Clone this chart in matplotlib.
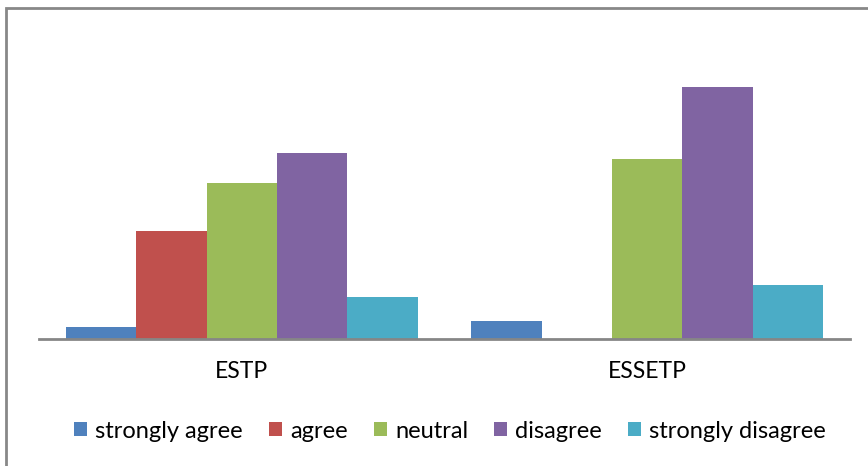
import numpy as np
import matplotlib.pyplot as plt
from matplotlib.patches import Rectangle

plt.rcParams['font.family'] = ['Lato', 'DejaVu Sans']

groups = ['ESTP', 'ESSETP']
answers = ['strongly agree', 'agree', 'neutral', 'disagree', 'strongly disagree']
estp = [2, 18, 26, 31, 7]
essetp = [3, 0, 30, 42, 9]
colors = ['#4F81BD', '#C0504D', '#9BBB59', '#8064A2', '#4BACC6']

values = np.array([estp, essetp])

fig = plt.figure(figsize=(8.68, 4.66), dpi=100)
ax = fig.add_axes([39 / 868, 1 - 339 / 466, 811 / 868, 270 / 466])

x = np.arange(len(groups))
w = 0.868 / len(answers)
for i, (name, c) in enumerate(zip(answers, colors)):
    ax.bar(x - 0.434 + w * (i + 0.5), values[:, i], width=w, color=c,
           label=name, edgecolor='none')

ax.set_xlim(-0.5, 1.5)
ax.set_ylim(0, 45)
ax.set_yticks([])
ax.set_xticks(x)
ax.set_xticklabels(groups, fontsize=16.5)
ax.tick_params(axis='x', length=0, pad=16)
for s in ['top', 'right', 'left']:
    ax.spines[s].set_visible(False)
ax.spines['bottom'].set_color('#868686')
ax.spines['bottom'].set_linewidth(2)

fig.legend(loc='center', bbox_to_anchor=(450 / 868, 1 - 431 / 466), ncol=5,
           frameon=False, fontsize=17, handlelength=0.55, handleheight=0.55,
           handletextpad=0.35, columnspacing=1.1)

# outer chart frame
fig.add_artist(Rectangle((6 / 868, -0.1), 1.2, 1 - 8 / 466 + 0.1,
                         transform=fig.transFigure, fill=False,
                         edgecolor='#888888', linewidth=2))

plt.savefig('out.png')
